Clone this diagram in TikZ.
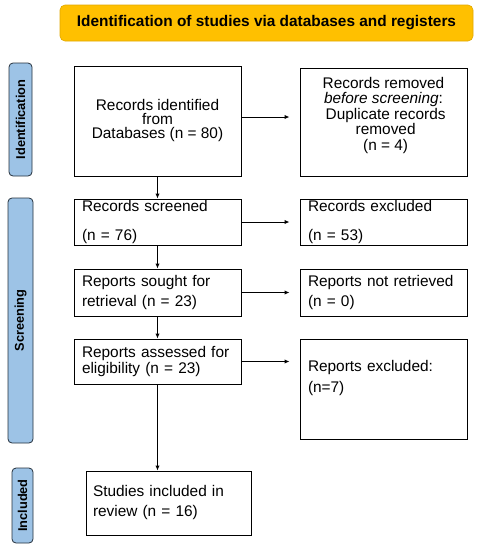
\documentclass[tikz,border=0pt]{standalone}
\usepackage{fontspec}
\setmainfont{Liberation Sans}
\usepackage{xcolor}
\usetikzlibrary{arrows.meta, calc, positioning}

\definecolor{headgold}{HTML}{FFC000}
\definecolor{headedge}{HTML}{E0A800}
\definecolor{sideblue}{HTML}{9DC3E6}
\definecolor{sideedge}{HTML}{24303C}

\begin{document}
\begin{tikzpicture}[x=1pt, y=-1pt,
                        >={Latex[length=5pt, width=4.5pt]},
                        every node/.style={font=\fontsize{15.4}{16}\selectfont},
                        box/.style={draw, line width=1pt, inner sep=0pt},
                        lbox/.style={box, align=left, text width=#1, inner xsep=8pt},
                        phase/.style={draw=sideedge, fill=sideblue, line width=0.8pt, rounded corners=4pt,
                                      rotate=90, inner sep=0pt, font=\fontsize{12.8}{14}\selectfont\bfseries}]
                        \useasboundingbox (0, 0) rectangle (479, 550);

                        \node[fill=headgold, draw=headedge, line width=0.6pt, rounded corners=5pt,
                              minimum width=413, minimum height=36, inner sep=0pt,
                              font=\fontsize{15.4}{16}\selectfont\bfseries] (head) at (266.5, 23)
                            {Identification of studies via databases and registers};

                        \node[phase, minimum width=113, minimum height=23] (pident) at (20.5, 119.5) {Identification};
                        \node[phase, minimum width=245, minimum height=25] (pscreen) at (20.5, 320.5) {Screening};
                        \node[phase, minimum width=75, minimum height=21] (pincl) at (22.5, 505.5) {Included};

                        \node[box, align=center, minimum width=167, minimum height=110,
                              font=\fontsize{15.4}{14}\selectfont] (ident) at (157.5, 121)
                            {Records identified\\from\\Databases (n = 80)};
                        \node[box, align=center, minimum width=167, minimum height=108,
                              font=\fontsize{15.4}{15.5}\selectfont] (removed) at (383.5, 122)
                            {Records removed\\\textit{before screening}:\\\ Duplicate records\\\ removed\\\ (n = 4)\\[1pt]\mbox{}};

                        \node[lbox=151, minimum height=46] (screened) at (157.5, 222)
                            {Records screened\\[13pt](n = 76)};
                        \node[lbox=151, minimum height=46] (recexcl) at (383.5, 222)
                            {Records excluded\\[13pt](n = 53)};

                        \node[lbox=151, minimum height=47] (sought) at (157.5, 292.5)
                            {Reports sought for\\[4pt]retrieval (n = 23)};
                        \node[lbox=151, minimum height=47] (notretr) at (383.5, 292.5)
                            {Reports not retrieved\\[4pt](n = 0)};

                        \node[lbox=151, minimum height=45] (assessed) at (157.5, 361.5)
                            {Reports assessed for\\eligibility (n = 23)};
                        \node[lbox=151, minimum height=100] (repexcl) at (383.5, 389)
                            {Reports excluded:\\[5pt](n=7)\\[4pt]\strut};

                        \node[lbox=151, inner xsep=7pt, minimum height=64] (included) at (168.5, 503)
                            {Studies included in\\[4pt]review (n = 16)};

                        \draw[line width=1pt]
                        ([yshift=4pt]ident.east) edge[->, shorten >=10pt] ([yshift=4pt]ident.east -| removed.west)
                        (screened) edge[->, shorten >=10pt] (recexcl)
                        (sought) edge[->, shorten >=10pt] (notretr)
                        (assessed.east) edge[->, shorten >=10pt] (assessed.east -| repexcl.west)
                        (ident) edge[->] (screened)
                        (screened) edge[->] (sought)
                        (sought) edge[->] (assessed)
                        (assessed.south) edge[->] (assessed.south |- included.north);
                    \end{tikzpicture}
\end{document}
